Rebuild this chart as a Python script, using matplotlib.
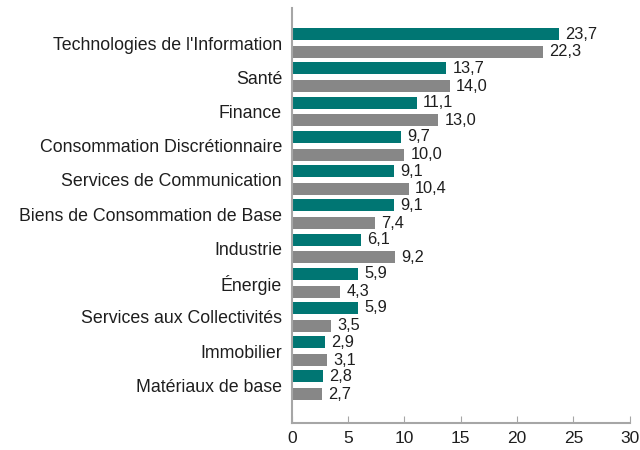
import numpy as np
import matplotlib.pyplot as plt

plt.rcParams['font.family'] = ['Liberation Sans', 'DejaVu Sans']

secteurs = ["Technologies de l'Information", "Santé", "Finance",
            "Consommation Discrétionnaire", "Services de Communication",
            "Biens de Consommation de Base", "Industrie", "Énergie",
            "Services aux Collectivités", "Immobilier", "Matériaux de base"]
serie1 = [23.7, 13.7, 11.1, 9.7, 9.1, 9.1, 6.1, 5.9, 5.9, 2.9, 2.8]
serie2 = [22.3, 14.0, 13.0, 10.0, 10.4, 7.4, 9.2, 4.3, 3.5, 3.1, 2.7]

teal = "#007673"
gris = "#878787"
axe = "#A6A6A6"
texte = "#1e1e1e"

fig = plt.figure(figsize=(6.4, 4.5), dpi=100)
ax = fig.add_axes([0.456, 0.06, 0.528, 0.922])

y = np.arange(len(secteurs))
off = 0.26
h = 0.35
b1 = ax.barh(y - off, serie1, height=h, color=teal)
b2 = ax.barh(y + off, serie2, height=h, color=gris)

for barres, vals in [(b1, serie1), (b2, serie2)]:
    for b, v in zip(barres, vals):
        ax.text(v + 0.55, b.get_y() + b.get_height() / 2, f"{v:.1f}".replace(".", ","),
                va="center", ha="left", fontsize=11.8, color=texte)

ax.set_yticks(y)
ax.set_yticklabels(secteurs, fontsize=12.8, color=texte)
ax.tick_params(axis="y", length=0, pad=7)
ax.set_xlim(0, 30)
ax.set_xticks(range(0, 31, 5))
ax.tick_params(axis="x", direction="in", length=5, color=axe, labelsize=12.5,
               labelcolor=texte, pad=6)
ax.set_ylim(11.1, -1.02)

for s in ["top", "right"]:
    ax.spines[s].set_visible(False)
for s in ["left", "bottom"]:
    ax.spines[s].set_color(axe)
    ax.spines[s].set_linewidth(1.5)

fig.savefig("out.png", dpi=100)
